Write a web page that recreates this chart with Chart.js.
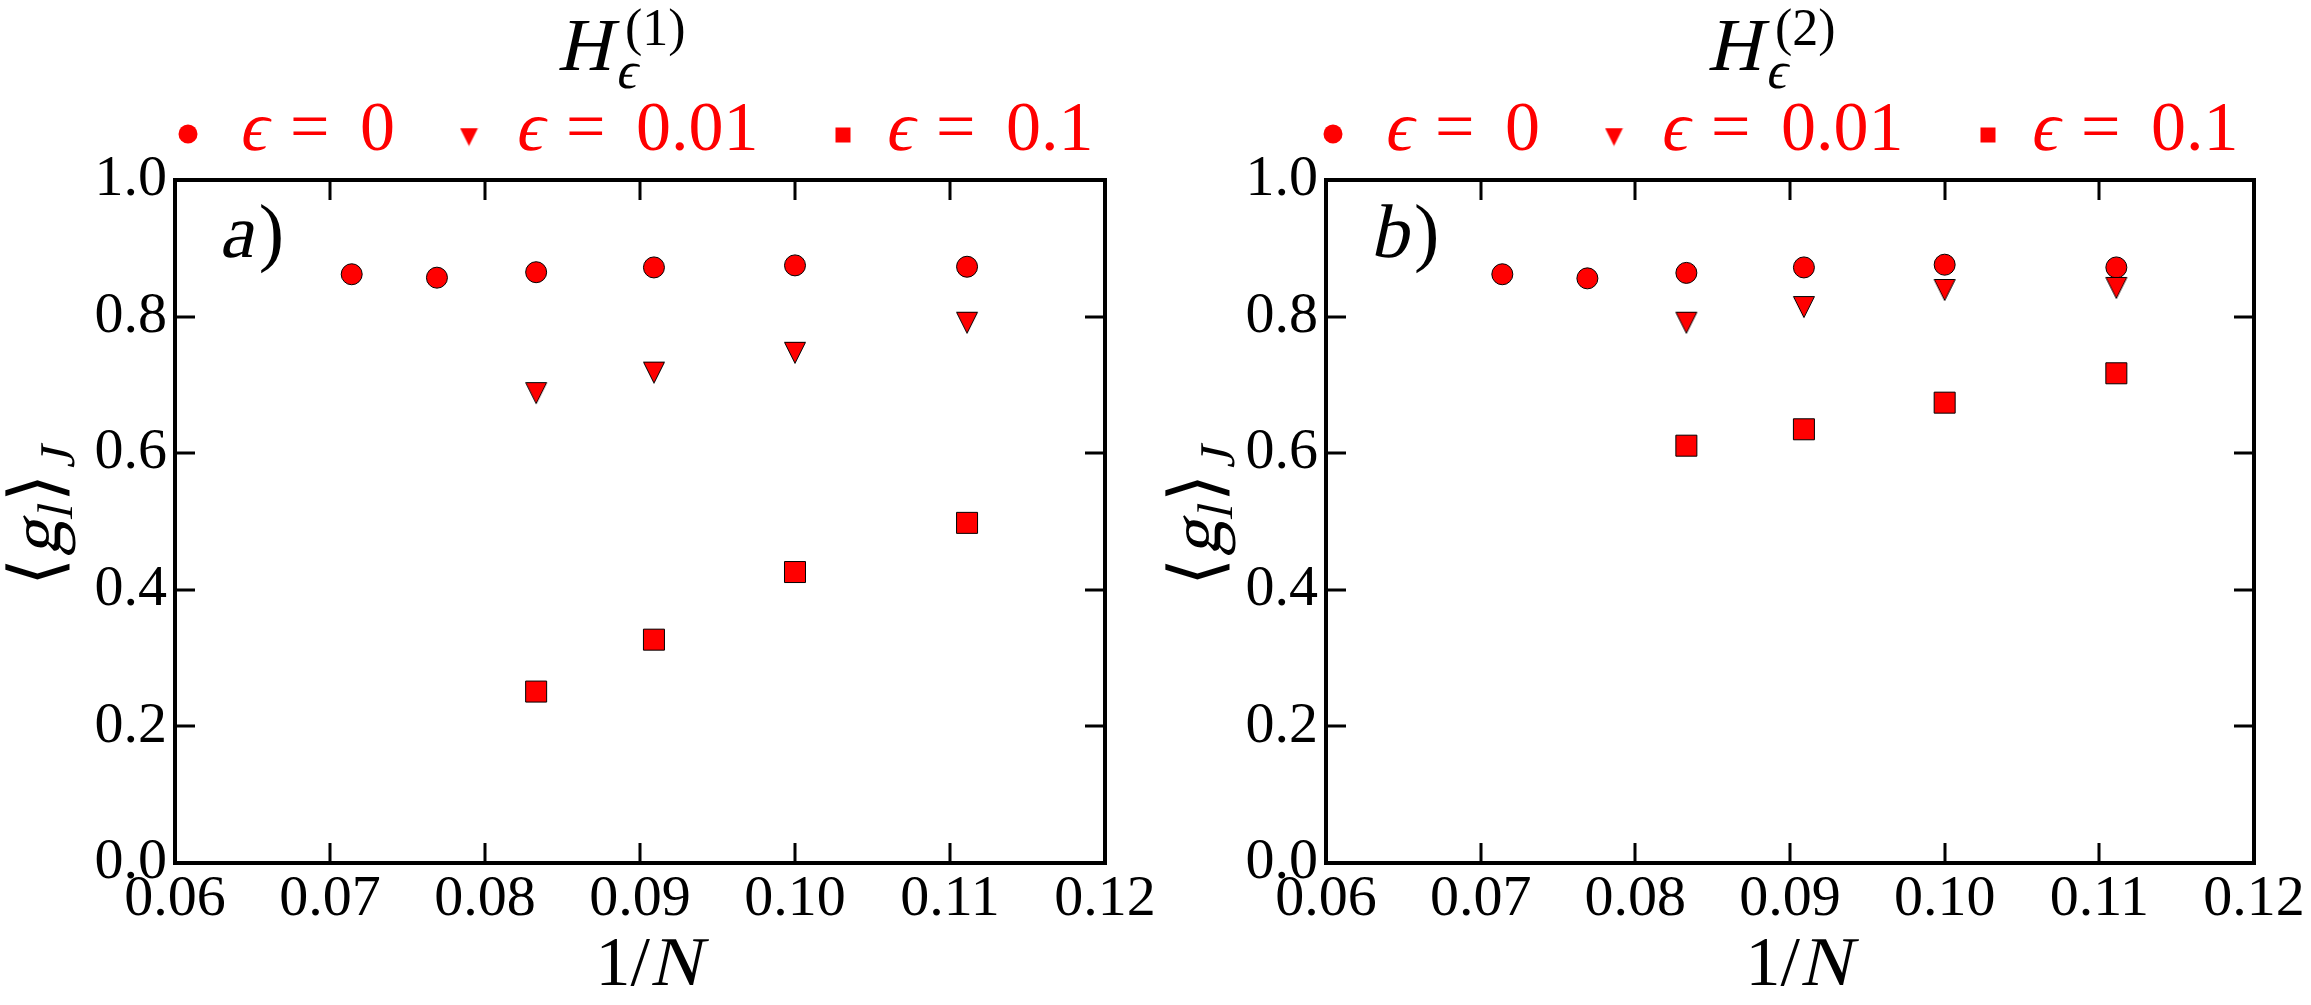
<!DOCTYPE html>
<html><head><meta charset="utf-8">
<script src="https://cdn.jsdelivr.net/npm/chart.js@4.4.1/dist/chart.umd.min.js"></script>
<style>
html,body{margin:0;padding:0;background:#fff;width:2311px;height:1005px;overflow:hidden;}
#wa{position:absolute;left:0;top:0;width:1160px;height:1005px;}
#wb{position:absolute;left:1160px;top:0;width:1151px;height:1005px;}
canvas{display:block;}
</style></head><body>
<div id="wa"><canvas id="ca" width="1160" height="1005"></canvas></div>
<div id="wb"><canvas id="cb" width="1151" height="1005"></canvas></div>
<script>
// ---- data (1/N values and <g_l>_J) ----
const invNAll   = [0.0714, 0.0769, 0.0833, 0.0909, 0.1000, 0.1111];
const invNSmall = [0.0833, 0.0909, 0.1000, 0.1111];
const seriesLabels = ['0', '0.01', '0.1'];

const a_eps0   = [0.862, 0.857, 0.865, 0.872, 0.875, 0.873];
const a_eps001 = [0.688, 0.718, 0.747, 0.791];
const a_eps01  = [0.251, 0.327, 0.426, 0.498];

const b_eps0   = [0.862, 0.856, 0.864, 0.872, 0.876, 0.872];
const b_eps001 = [0.791, 0.814, 0.839, 0.842];
const b_eps01  = [0.611, 0.635, 0.674, 0.717];

const xMin = 0.06, xMax = 0.12, xStep = 0.01;
const yMin = 0.0,  yMax = 1.0,  yStep = 0.2;

// ---- styling ----
const RED = '#ff0000';
const FAM = "'Liberation Serif'";
const SLANT = -0.22;

function triCanvas(size, edge) {
  const c = document.createElement('canvas');
  c.width = size; c.height = size;
  const g = c.getContext('2d');
  const m = edge ? 1.5 : 0.5;
  g.beginPath();
  g.moveTo(m, m); g.lineTo(size - m, m); g.lineTo(size / 2, size - m); g.closePath();
  g.fillStyle = RED; g.fill();
  if (edge) { g.strokeStyle = '#000'; g.lineWidth = 1; g.stroke(); }
  return c;
}

function pts(xs, ys) { return xs.map((x, i) => ({x: x, y: ys[i]})); }

// draw a run of text pieces; italic pieces are drawn with a slant transform
function drawRuns(ctx, x, y, runs) {
  let cx = x;
  for (const r of runs) {
    ctx.font = r.size + 'px ' + FAM;
    if (r.at !== undefined) cx = x + r.at;
    const px = cx + (r.dx || 0), py = y + (r.dy || 0);
    if (r.it) {
      ctx.save();
      ctx.translate(px, py);
      ctx.transform(1, 0, SLANT, 1, 0, 0);
      ctx.fillText(r.t, 0, 0);
      ctx.restore();
    } else {
      ctx.fillText(r.t, px, py);
    }
    cx += ctx.measureText(r.t).width + (r.dx || 0);
  }
}
function runsWidth(ctx, runs) {
  let w = 0;
  for (const r of runs) { ctx.font = r.size + 'px ' + FAM; w += ctx.measureText(r.t).width + (r.dx || 0); }
  return w;
}

function decoPlugin(cfg) {
  return {
    id: 'deco',
    afterDraw(chart) {
      const ctx = chart.ctx;
      const ca = chart.chartArea;
      const xs = chart.scales.x, ys = chart.scales.y;
      ctx.save();
      // inward ticks on all four sides
      ctx.strokeStyle = '#000';
      ctx.lineWidth = 3;
      ctx.beginPath();
      xs.ticks.forEach(t => {
        if (t.value <= xMin + 1e-9 || t.value >= xMax - 1e-9) return;
        const px = Math.round(xs.getPixelForValue(t.value));
        ctx.moveTo(px, ca.bottom); ctx.lineTo(px, ca.bottom - 20);
        ctx.moveTo(px, ca.top); ctx.lineTo(px, ca.top + 20);
      });
      ys.ticks.forEach(t => {
        if (t.value <= yMin + 1e-9 || t.value >= yMax - 1e-9) return;
        const py = Math.round(ys.getPixelForValue(t.value));
        ctx.moveTo(ca.left, py); ctx.lineTo(ca.left + 20, py);
        ctx.moveTo(ca.right, py); ctx.lineTo(ca.right - 20, py);
      });
      ctx.stroke();
      // frame
      ctx.lineWidth = 4;
      ctx.strokeRect(ca.left, ca.top, ca.right - ca.left, ca.bottom - ca.top);

      ctx.textBaseline = 'alphabetic';
      ctx.textAlign = 'left';
      // title H_eps^(k)
      ctx.fillStyle = '#000';
      const tx = cfg.titleX;
      drawRuns(ctx, tx, 70, [{t: 'H', size: 75, it: true}]);
      drawRuns(ctx, tx + 58, 88, [{t: '\u03F5', size: 52, it: true}]);
      drawRuns(ctx, tx + 68, 45, [{t: '(' + cfg.k + ')', size: 52}]);

      // legend
      const s = cfg.legShift;
      ctx.fillStyle = RED;
      ctx.beginPath(); ctx.arc(188 + s, 134, 9.5, 0, Math.PI * 2); ctx.fill();
      ctx.drawImage(triCanvas(19, false), 469 + s - 9.5, 137 - 9.5);
      ctx.fillRect(843 + s - 7.5, 135 - 7.5, 15, 15);
      [238, 514, 884].forEach((lx, i) => {
        drawRuns(ctx, lx + s, 150, [
          {t: '\u03F5', size: 70, it: true},
          {t: '=', size: 70, at: 52},
          {t: seriesLabels[i], size: 70, at: 122}
        ]);
      });

      // panel label a) / b)
      ctx.fillStyle = '#000';
      drawRuns(ctx, ca.left + 44, 257, [
        {t: cfg.panel, size: 76, it: true},
        {t: ')', size: 76, dx: 6}
      ]);

      // x axis title 1/N
      const xr = [{t: '1/', size: 70}, {t: 'N', size: 70, it: true}];
      const xw = runsWidth(ctx, xr);
      drawRuns(ctx, (ca.left + ca.right) / 2 + 8 - xw / 2, 985, xr);

      // y axis title <g_l>_J (rotated)
      const yr = [
        {t: '\u27E8', size: 72},
        {t: 'g', size: 72, it: true, dx: 2},
        {t: 'l', size: 50, it: true, dy: 12},
        {t: '\u27E9', size: 72, dx: 4},
        {t: 'J', size: 50, it: true, dy: 14, dx: 6}
      ];
      const yw = runsWidth(ctx, yr);
      ctx.translate(60, (ca.top + ca.bottom) / 2 - 4);
      ctx.rotate(-Math.PI / 2);
      drawRuns(ctx, -yw / 2, 0, yr);
      ctx.restore();
    }
  };
}

function makeChart(id, ys0, ys001, ys01, cfg) {
  const el = document.getElementById(id);
  return new Chart(el, {
    type: 'scatter',
    data: {
      datasets: [
        {label: '\u03F5 = 0', data: pts(invNAll, ys0), order: 3,
         pointStyle: 'circle', pointRadius: 10.5, pointHoverRadius: 10.5,
         backgroundColor: RED, borderColor: '#000', borderWidth: 1},
        {label: '\u03F5 = 0.01', data: pts(invNSmall, ys001), order: 2,
         pointStyle: triCanvas(24, true), pointRadius: 12, pointHoverRadius: 12,
         backgroundColor: RED, borderColor: '#000', borderWidth: 1},
        {label: '\u03F5 = 0.1', data: pts(invNSmall, ys01), order: 1,
         pointStyle: 'rect', pointRadius: 14.85, pointHoverRadius: 14.85,
         backgroundColor: RED, borderColor: '#000', borderWidth: 1}
      ]
    },
    options: {
      responsive: false,
      animation: false,
      layout: {padding: {top: 180, right: cfg.padRight, left: 0, bottom: 0}},
      plugins: {legend: {display: false}, tooltip: {enabled: false}, title: {display: false}},
      scales: {
        x: {
          type: 'linear', min: xMin, max: xMax,
          grid: {display: false, drawTicks: false},
          border: {display: false},
          ticks: {stepSize: xStep, autoSkip: false, maxRotation: 0, padding: 2,
                  color: '#000', font: {family: FAM, size: 58},
                  callback: v => Number(v).toFixed(2)},
          afterFit: sc => { sc.height = 142; }
        },
        y: {
          type: 'linear', min: yMin, max: yMax,
          grid: {display: false, drawTicks: false},
          border: {display: false},
          ticks: {stepSize: yStep, autoSkip: false, padding: 8,
                  color: '#000', font: {family: FAM, size: 58},
                  callback: v => Number(v).toFixed(1)},
          afterFit: sc => { sc.width = cfg.yWidth; }
        }
      }
    },
    plugins: [decoPlugin(cfg)]
  });
}

makeChart('ca', a_eps0, a_eps001, a_eps01,
  {k: 1, panel: 'a', titleX: 557, legShift: 0, padRight: 55, yWidth: 175});
makeChart('cb', b_eps0, b_eps001, b_eps01,
  {k: 2, panel: 'b', titleX: 547, legShift: -15, padRight: 57, yWidth: 166});
</script>
</body></html>
